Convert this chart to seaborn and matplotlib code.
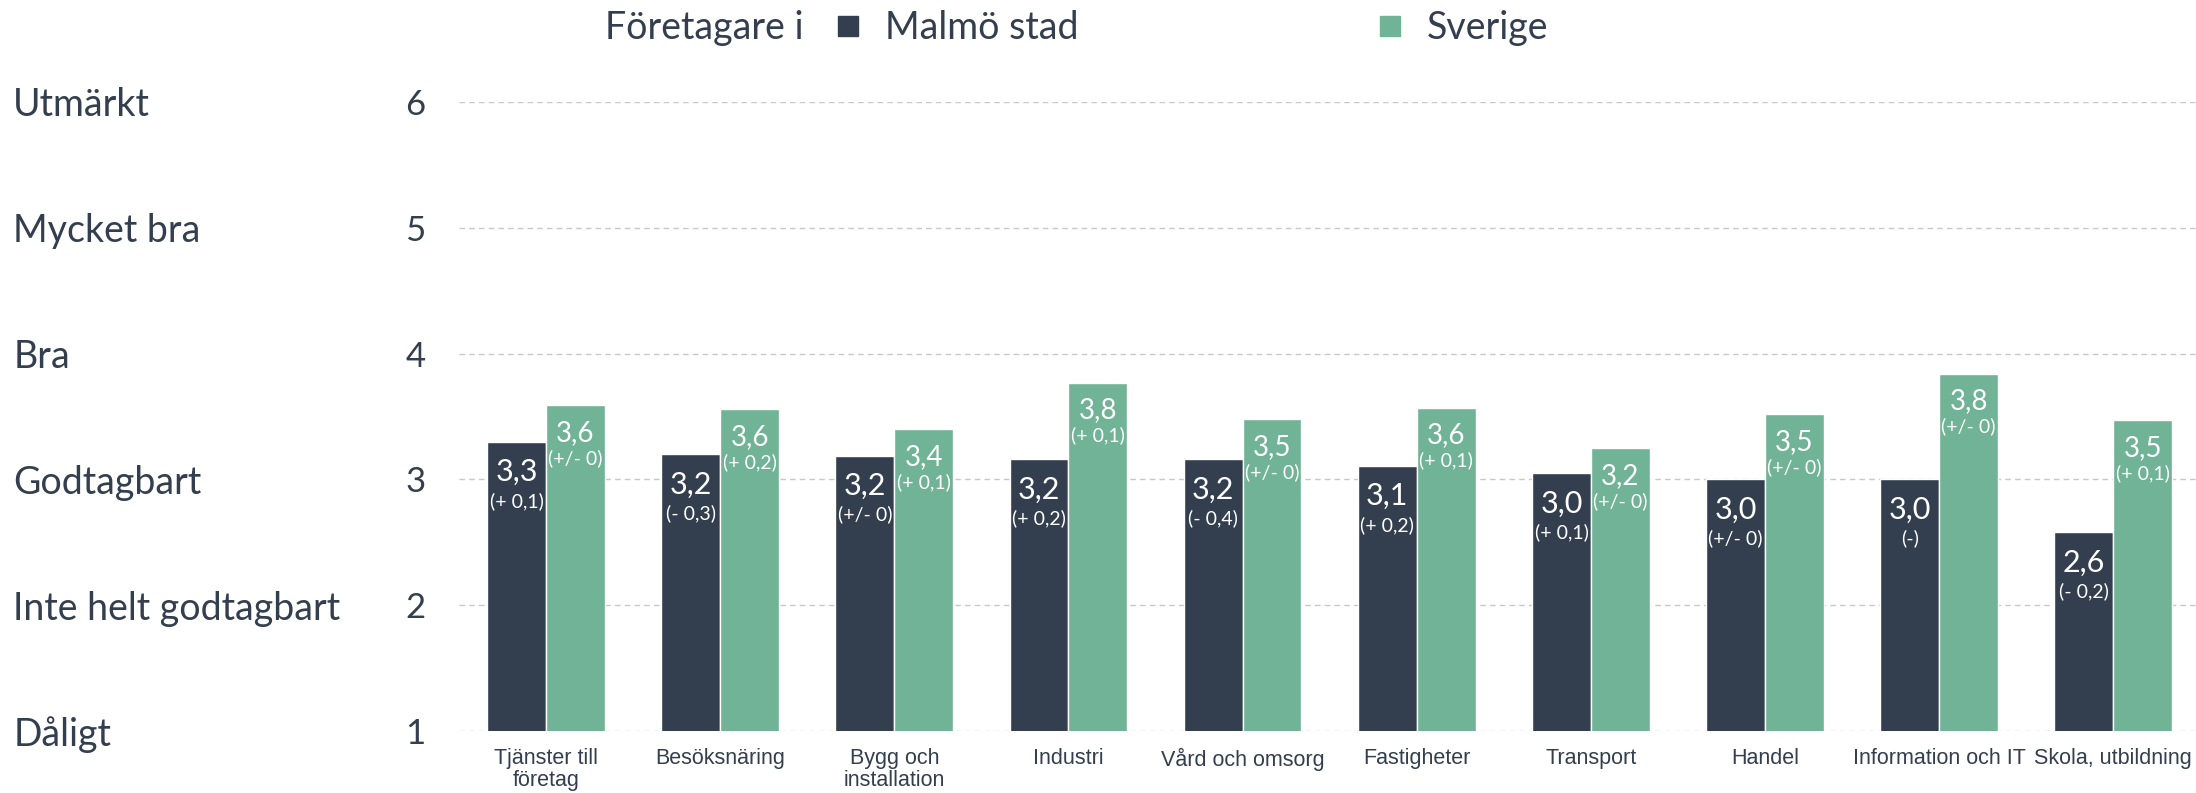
import matplotlib
matplotlib.use("Agg")
import matplotlib.pyplot as plt
from matplotlib.lines import Line2D
from matplotlib.transforms import blended_transform_factory
import seaborn as sns
import pandas as pd

categories = ["Tjänster till\nföretag", "Besöksnäring", "Bygg och\ninstallation", "Industri",
              "Vård och omsorg", "Fastigheter", "Transport", "Handel",
              "Information och IT", "Skola, utbildning"]
series_names = ["Malmö stad", "Sverige"]
malmo_values = [3.30, 3.20, 3.19, 3.16, 3.16, 3.11, 3.05, 3.00, 3.00, 2.58]
sverige_values = [3.59, 3.56, 3.40, 3.77, 3.48, 3.57, 3.25, 3.52, 3.84, 3.47]
malmo_labels = ["3,3", "3,2", "3,2", "3,2", "3,2", "3,1", "3,0", "3,0", "3,0", "2,6"]
malmo_changes = ["(+ 0,1)", "(- 0,3)", "(+/- 0)", "(+ 0,2)", "(- 0,4)", "(+ 0,2)",
                 "(+ 0,1)", "(+/- 0)", "(-)", "(- 0,2)"]
sverige_labels = ["3,6", "3,6", "3,4", "3,8", "3,5", "3,6", "3,2", "3,5", "3,8", "3,5"]
sverige_changes = ["(+/- 0)", "(+ 0,2)", "(+ 0,1)", "(+ 0,1)", "(+/- 0)", "(+ 0,1)",
                   "(+/- 0)", "(+/- 0)", "(+/- 0)", "(+ 0,1)"]
ytick_values = [1, 2, 3, 4, 5, 6]
ytick_names = ["Dåligt", "Inte helt godtagbart", "Godtagbart", "Bra", "Mycket bra", "Utmärkt"]
legend_prefix = "Företagare i"

DARK = "#333f4e"
GREEN = "#70b396"
TEXT = "#333f4e"

sns.set_theme(style="white")
plt.rcParams["font.family"] = ["Lato", "DejaVu Sans"]

df = pd.DataFrame({
    "kategori": categories * 2,
    "serie": [series_names[0]] * len(categories) + [series_names[1]] * len(categories),
    "varde": malmo_values + sverige_values,
})

W, H = 2196, 793
fig = plt.figure(figsize=(W / 100, H / 100), dpi=100)
ax = fig.add_axes([0.209, 0.078, 0.793, 0.7935])

sns.barplot(data=df, x="kategori", y="varde", hue="serie", hue_order=series_names,
            palette=[DARK, GREEN], width=0.676, saturation=1, ax=ax, legend=False,
            zorder=3)

ax.set_xlim(-0.5, len(categories) - 0.5)
ax.set_ylim(1, 6)
ax.set_yticks(ytick_values)
ax.set_yticklabels([str(v) for v in ytick_values], fontsize=25, color=TEXT)
ax.tick_params(axis="y", length=0, pad=24)
ax.tick_params(axis="x", length=0, pad=12)
for lab in ax.get_xticklabels():
    lab.set_fontfamily(["Liberation Sans", "DejaVu Sans"])
    lab.set_fontsize(15.5)
    lab.set_color(TEXT)
    lab.set_linespacing(1.05)
ax.set_xlabel("")
ax.set_ylabel("")
for s in ax.spines.values():
    s.set_visible(False)
ax.grid(axis="y", color="#c8c8c8", linestyle=(0, (4, 3)), linewidth=1.0, zorder=0)
ax.set_axisbelow(True)

# Left-hand category names
trans = blended_transform_factory(fig.transFigure, ax.transData)
for v, name in zip(ytick_values, ytick_names):
    ax.text(0.006, v, name, transform=trans, ha="left", va="center_baseline",
            fontsize=27, color=TEXT, clip_on=False)

# Bar labels
for cont, labels, changes, vsize, off1, off2 in [
        (ax.containers[0], malmo_labels, malmo_changes, 22, 0.24, 0.47),
        (ax.containers[1], sverige_labels, sverige_changes, 20, 0.22, 0.42)]:
    for bar, lab, ch in zip(cont, labels, changes):
        x = bar.get_x() + bar.get_width() / 2
        h = bar.get_height()
        ax.text(x, h - off1, lab, ha="center", va="center", color="white",
                fontsize=vsize, zorder=5)
        ax.text(x, h - off2, ch, ha="center", va="center", color="white",
                fontsize=14, zorder=5)

# Legend
ly = 1 - 28 / H
fig.text(605 / W, ly, legend_prefix, ha="left", va="center", fontsize=27, color=TEXT)
for name, col, x0 in [(series_names[0], DARK, 834), (series_names[1], GREEN, 1376)]:
    h = Line2D([0], [0], marker="s", linestyle="none", markersize=15,
               markerfacecolor=col, markeredgecolor=col)
    leg = fig.legend([h], [name], loc="center left", bbox_to_anchor=(x0 / W, ly),
                     frameon=False, fontsize=27, handlelength=0.72, handletextpad=0.64,
                     borderpad=0, borderaxespad=0)
    for t in leg.get_texts():
        t.set_color(TEXT)

fig.savefig("out.png", dpi=100)
